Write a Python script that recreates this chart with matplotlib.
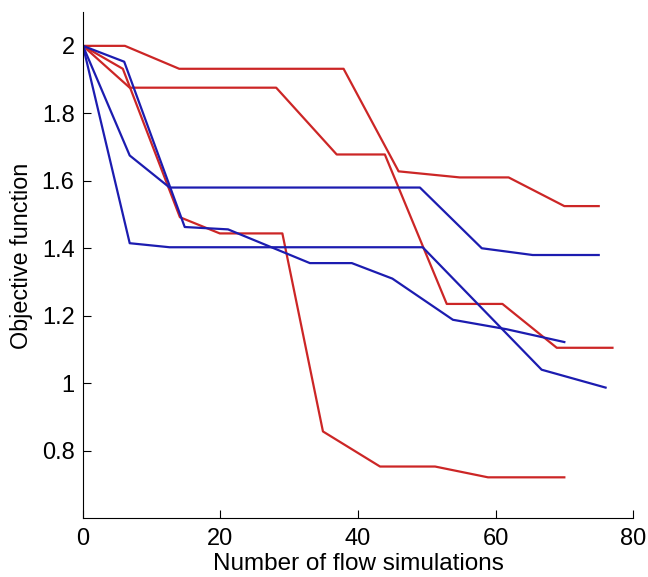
import matplotlib
matplotlib.use("Agg")
import matplotlib.pyplot as plt

plt.rcParams['font.family'] = ['Liberation Sans', 'DejaVu Sans']

# red runs
red1_x = [0, 6.1, 14.0, 37.9, 45.9, 54.8, 61.9, 70.0, 75.0]
red1_y = [2.0, 2.0, 1.932, 1.932, 1.628, 1.61, 1.61, 1.525, 1.525]

red2_x = [0, 6.8, 28.1, 36.9, 43.9, 52.9, 61.0, 68.9, 77.0]
red2_y = [2.0, 1.876, 1.876, 1.678, 1.678, 1.235, 1.235, 1.105, 1.105]

red3_x = [0, 5.8, 14.1, 19.9, 29.0, 34.9, 43.2, 51.2, 58.9, 70.0]
red3_y = [2.0, 1.932, 1.492, 1.444, 1.444, 0.857, 0.753, 0.753, 0.721, 0.721]

# blue runs
blue1_x = [0, 6.0, 14.8, 21.1, 33.0, 39.1, 45.0, 53.8, 61.6, 70.0]
blue1_y = [2.0, 1.953, 1.463, 1.456, 1.356, 1.356, 1.31, 1.188, 1.16, 1.122]

blue2_x = [0, 6.8, 12.6, 49.0, 58.0, 65.4, 75.0]
blue2_y = [2.0, 1.675, 1.58, 1.58, 1.40, 1.38, 1.38]

blue3_x = [0, 6.8, 12.6, 49.4, 66.7, 76.0]
blue3_y = [2.0, 1.415, 1.403, 1.403, 1.04, 0.987]

red = '#cc2626'
blue = '#1c1cb0'

fig = plt.figure(figsize=(6.48, 5.77), dpi=100)
ax = fig.add_axes([0.128, 0.102, 0.849, 0.877])

for xs, ys in [(red1_x, red1_y), (red2_x, red2_y), (red3_x, red3_y)]:
    ax.plot(xs, ys, color=red, lw=1.6)
for xs, ys in [(blue1_x, blue1_y), (blue2_x, blue2_y), (blue3_x, blue3_y)]:
    ax.plot(xs, ys, color=blue, lw=1.6)

ax.set_xlim(0, 80)
ax.set_ylim(0.6, 2.1)
ax.set_xticks([0, 20, 40, 60, 80])
ax.set_yticks([0.8, 1.0, 1.2, 1.4, 1.6, 1.8, 2.0])
ax.set_yticklabels(['0.8', '1', '1.2', '1.4', '1.6', '1.8', '2'])
ax.spines['top'].set_visible(False)
ax.spines['right'].set_visible(False)
ax.tick_params(direction='in', length=6, labelsize=17, width=0.8)
ax.tick_params(axis='x', pad=7)
ax.tick_params(axis='y', pad=6)
ax.set_xlabel('Number of flow simulations', fontsize=17.5, labelpad=2)
ax.set_ylabel('Objective function', fontsize=16.8)
ax.yaxis.set_label_coords(-0.091, 0.518)

fig.savefig('out.png')
